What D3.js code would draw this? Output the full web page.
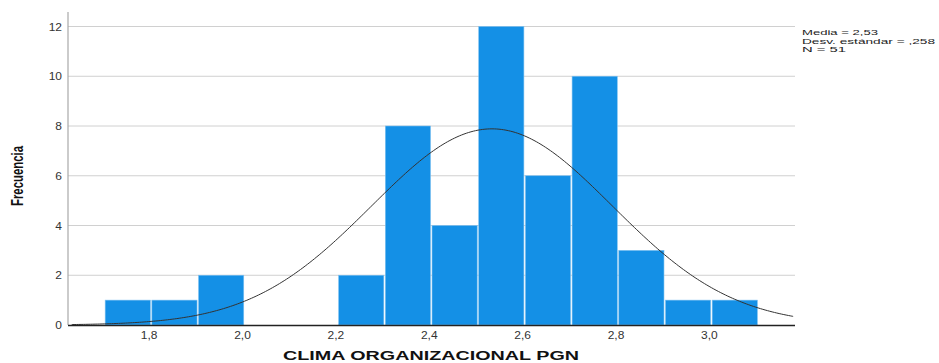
<!DOCTYPE html>
<html><head><meta charset="utf-8">
<script src="https://cdn.jsdelivr.net/npm/d3@7"></script>
<style>body{margin:0;background:#fff}svg{display:block}</style>
</head><body>
<svg id="c" width="939" height="363"></svg>
<script>
const binStarts = [1.7,1.8,1.9,2.0,2.1,2.2,2.3,2.4,2.5,2.6,2.7,2.8,2.9,3.0];
const counts    = [1,1,2,0,0,2,8,4,12,6,10,3,1,1];
const binWidth = 0.1;
const xTicks = [1.8,2.0,2.2,2.4,2.6,2.8,3.0];
const yTicks = [0,2,4,6,8,10,12];
const stats = {mean:2.53, sd:0.258, n:51};
const legendLines = ["Media = 2,53","Desv. estándar = ,258","N = 51"];
const legendWidths = [76,133,44];

const svg = d3.select("#c");
const x = d3.scaleLinear().domain([1.622,3.179]).range([68,795]);
const y = d3.scaleLinear().domain([0,12]).range([325,26.5]);
const fmt = d => d.toFixed(1).replace(".",",");
const FONT = "Liberation Sans, Arial, sans-serif";

// gridlines
svg.append("g").selectAll("line").data(yTicks.filter(d=>d>0)).join("line")
  .attr("x1",68).attr("x2",795).attr("y1",d=>y(d)).attr("y2",d=>y(d))
  .attr("stroke","#d0d0d0").attr("stroke-width",1);

// bars
svg.append("g").selectAll("rect").data(binStarts.map((s,i)=>({s,c:counts[i]})).filter(d=>d.c>0)).join("rect")
  .attr("x",d=>x(d.s)+0.75).attr("width",d=>x(d.s+binWidth)-x(d.s)-1.5)
  .attr("y",d=>y(d.c)).attr("height",d=>y(0)-y(d.c))
  .attr("fill","#1490e6").attr("stroke","#7cc0f0").attr("stroke-width",0.6);

// y axis line
svg.append("line").attr("x1",68).attr("x2",68).attr("y1",12).attr("y2",325).attr("stroke","#a8a8a8").attr("stroke-width",1.2);

// y tick labels
svg.append("g").selectAll("text").data(yTicks).join("text")
  .attr("transform",d=>`translate(62,${y(d)+4}) scale(1,0.85)`).attr("text-anchor","end")
  .attr("font-family",FONT).attr("font-size",12).attr("fill","#333")
  .text(d=>d);

// x tick labels
svg.append("g").selectAll("text").data(xTicks).join("text")
  .attr("transform",d=>`translate(${x(d)-2},339) scale(1,0.85)`).attr("text-anchor","middle")
  .attr("font-family",FONT).attr("font-size",12).attr("fill","#333")
  .text(fmt);

// normal curve
const pts = d3.range(1.63,3.1791,0.005).map(v=>[v, stats.n*binWidth/(stats.sd*Math.sqrt(2*Math.PI))*Math.exp(-0.5*((v-stats.mean)/stats.sd)**2)]);
svg.append("path").datum(pts)
  .attr("d",d3.line().x(d=>x(d[0])).y(d=>y(d[1])).curve(d3.curveBasis))
  .attr("fill","none").attr("stroke","#333").attr("stroke-width",1);

// x axis line
svg.append("line").attr("x1",68).attr("x2",795).attr("y1",325.5).attr("y2",325.5).attr("stroke","#222").attr("stroke-width",1.3);

// axis titles
svg.append("text").attr("transform","translate(23,176) rotate(-90)").attr("text-anchor","middle")
  .attr("font-family","Liberation Sans Narrow, Arial Narrow, sans-serif").attr("font-size",16).attr("font-weight","bold").attr("fill","#111")
  .attr("textLength",60).attr("lengthAdjust","spacingAndGlyphs")
  .text("Frecuencia");
svg.append("text").attr("transform","translate(431,360) scale(1,0.9)").attr("text-anchor","middle")
  .attr("font-family",FONT).attr("font-size",15).attr("font-weight","bold").attr("fill","#111")
  .attr("textLength",296).attr("lengthAdjust","spacingAndGlyphs")
  .text("CLIMA ORGANIZACIONAL PGN");

// legend
svg.append("g").selectAll("text").data(legendLines).join("text")
  .attr("transform",(d,i)=>`translate(802,${35+i*8.5}) scale(1,0.85)`)
  .attr("font-family",FONT).attr("font-size",9.5).attr("fill","#222")
  .attr("textLength",(d,i)=>legendWidths[i]).attr("lengthAdjust","spacingAndGlyphs")
  .text(d=>d);
</script>
</body></html>
